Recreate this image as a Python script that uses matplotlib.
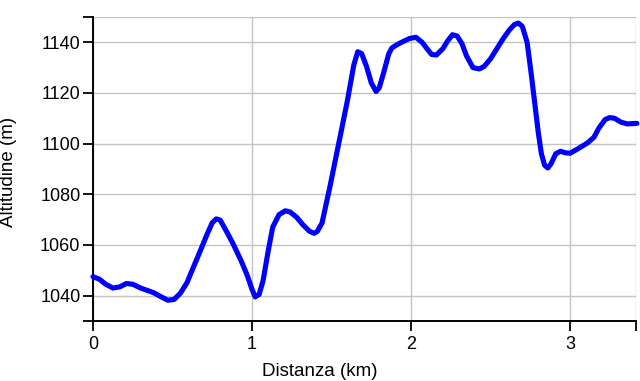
import matplotlib.pyplot as plt
import numpy as np

plt.rcParams['font.family'] = ['Liberation Sans', 'DejaVu Sans']

# profile (km, m)
dist = [0.00, 0.04, 0.08, 0.126, 0.17, 0.21, 0.25, 0.30, 0.38, 0.43, 0.47, 0.51,
        0.55, 0.59, 0.63, 0.68, 0.72, 0.75, 0.775, 0.80, 0.83, 0.88, 0.93, 0.97,
        1.00, 1.02, 1.045, 1.07, 1.10, 1.13, 1.17, 1.21, 1.24, 1.28, 1.32, 1.36,
        1.39, 1.41, 1.44, 1.49, 1.55, 1.60, 1.64, 1.665, 1.69, 1.72, 1.75, 1.78,
        1.80, 1.83, 1.86, 1.88, 1.91, 1.94, 1.99, 2.03, 2.07, 2.10, 2.13, 2.16,
        2.20, 2.23, 2.26, 2.29, 2.32, 2.35, 2.39, 2.43, 2.46, 2.50, 2.54, 2.58,
        2.62, 2.65, 2.675, 2.70, 2.73, 2.755, 2.78, 2.80, 2.82, 2.84, 2.86, 2.88,
        2.91, 2.94, 2.97, 3.00, 3.05, 3.11, 3.15, 3.18, 3.22, 3.25, 3.28, 3.32,
        3.36, 3.42]
alt = [1047.5, 1046.5, 1044.5, 1043.0, 1043.5, 1044.8, 1044.5, 1043.0, 1041.2, 1039.5, 1038.2, 1038.5,
       1041.0, 1045.0, 1051.0, 1058.5, 1064.6, 1068.8, 1070.3, 1069.8, 1066.5, 1060.6, 1054.0, 1048.0,
       1042.5, 1039.5, 1040.5, 1046.0, 1057.0, 1067.0, 1072.0, 1073.5, 1073.0, 1071.0, 1068.0, 1065.5,
       1064.6, 1065.3, 1068.6, 1083.0, 1101.5, 1117.0, 1131.0, 1136.3, 1135.5, 1130.5, 1124.0, 1120.6,
       1122.0, 1128.5, 1135.5, 1137.8, 1139.0, 1140.0, 1141.5, 1142.0, 1140.0, 1137.5, 1135.2, 1135.0,
       1137.5, 1140.5, 1143.0, 1142.5, 1139.5, 1134.5, 1130.0, 1129.5, 1130.5, 1133.5, 1137.5, 1141.5,
       1145.0, 1147.0, 1147.6, 1146.3, 1140.0, 1128.0, 1115.0, 1104.5, 1096.0, 1091.5, 1090.4, 1092.0,
       1096.0, 1097.0, 1096.4, 1096.2, 1098.0, 1100.3, 1102.5, 1106.0, 1109.5, 1110.3, 1110.0, 1108.5,
       1107.8, 1108.0]

x_ticks = [0, 1, 2, 3, 3.415]
x_labels = ['0', '1', '2', '3', '']
y_ticks = [1030, 1040, 1060, 1080, 1100, 1120, 1140, 1150]
y_labels = ['', '1040', '1060', '1080', '1100', '1120', '1140', '']

fig = plt.figure(figsize=(6.4, 3.81), dpi=100)
ax = fig.add_axes([0.1453, 0.1575, 0.8485, 0.7979])

ax.plot(dist, alt, color='#0000ff', linewidth=3.7, solid_joinstyle='round',
        solid_capstyle='round', zorder=3, clip_on=False)

ax.set_xlim(0, 3.415)
ax.set_ylim(1030, 1150)
ax.set_xticks(x_ticks)
ax.set_xticklabels(x_labels)
ax.set_yticks(y_ticks)
ax.set_yticklabels(y_labels)

ax.grid(True, color='#c4c4c4', linewidth=1.0)
ax.set_axisbelow(True)

for s in ['top', 'right']:
    ax.spines[s].set_visible(False)
for s in ['left', 'bottom']:
    ax.spines[s].set_linewidth(1.4)
    ax.spines[s].set_color('black')

ax.tick_params(axis='both', length=7, width=1.3, labelsize=13, colors='black')
ax.tick_params(axis='y', pad=2)
ax.tick_params(axis='x', pad=4)

# axis titles sit relative to the whole figure in the reference
fig.text(0.5, 0.003, 'Distanza (km)', fontsize=13.5, ha='center', va='bottom')
fig.text(0.013, 0.548, 'Altitudine (m)', fontsize=13.5, ha='center', va='center',
         rotation=90)

fig.savefig('out.png', dpi=100)
